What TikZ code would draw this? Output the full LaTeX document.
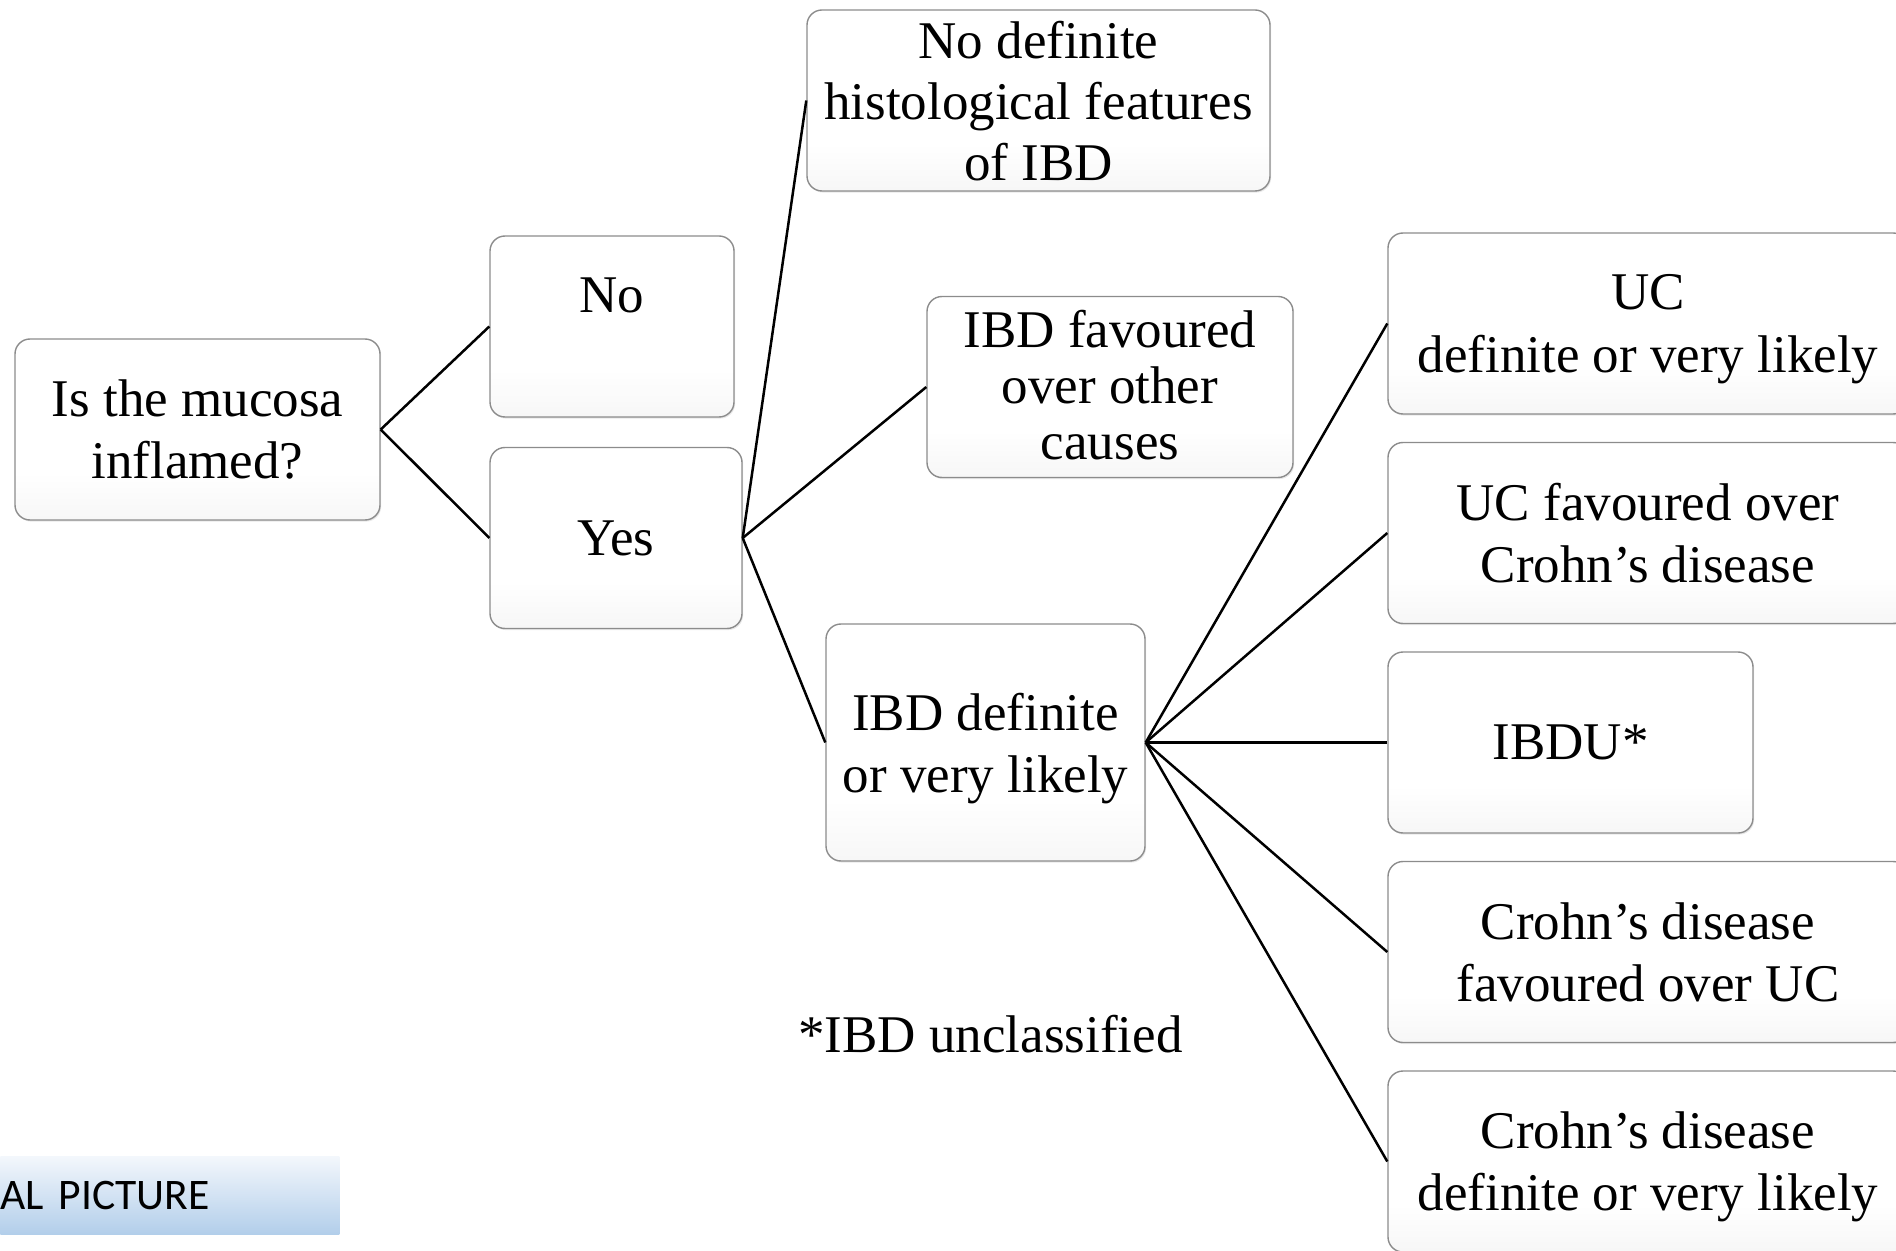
\documentclass[tikz,border=0pt]{standalone}
\usepackage{fontspec}
\setmainfont{Liberation Serif}
\newfontfamily\calibri{Carlito}
\usetikzlibrary{shadows}
\definecolor{bannertop}{RGB}{243,247,252}
\definecolor{bannerbot}{RGB}{178,206,234}
\pgfdeclareverticalshading{boxshade}{100bp}{color(0bp)=(black!16); color(14bp)=(black!6); color(38bp)=(white); color(100bp)=(white)}
\tikzstyle{box} = [rectangle, rounded corners=7.5pt, minimum height=90.5pt, align=center, draw=black!45, line width=0.7pt, shading=boxshade, drop shadow={opacity=0.18, shadow xshift=0.6pt, shadow yshift=-0.8pt}, font=\fontsize{26.5}{31}\selectfont, text depth=-4pt]
\tikzstyle{wide} = [minimum width=260pt]
\tikzstyle{edge} = [line width=1.25pt, black]
\tikzstyle{banner} = [rectangle, top color=bannertop, bottom color=bannerbot, minimum width=169.5pt, minimum height=39pt, text width=169.5pt, inner xsep=0pt, inner ysep=0pt, align=left, font=\calibri\fontsize{21.8}{26}\selectfont]

\begin{document}
\begin{tikzpicture}[x=0.5pt, y=-0.5pt, node distance=104.75pt]
\clip (0,0) rectangle (1896,1251);

\node (0) [box, minimum width=182.5pt] at (197.5,429.5) {Is the mucosa\\inflamed?};
\node (1) [box, minimum width=122pt, text depth=-6.5pt] at (612,326.5) {No\\\strut};
\node (2) [box, minimum width=126pt] at (616,538) {Yes};
\node (3) [box, minimum width=231.5pt, font=\fontsize{26.5}{30.5}\selectfont, text depth=-2.5pt] at (1038.5,100.5) {No definite\\histological features\\of IBD};
\node (4) [box, minimum width=183pt, font=\fontsize{26.5}{28}\selectfont, text depth=2.4pt] at (1110,387) {IBD favoured\\over other\\causes};
\node (5) [box, minimum width=159.5pt, minimum height=118.5pt, text depth=-2.5pt] at (985.5,742.5) {IBD definite\\or very likely};
\node (6) [box, wide, font=\fontsize{26.5}{31.5}\selectfont, text depth=-6.5pt] at (1648,323.5) {UC\\definite or very likely};
\node (7) [box, wide, below of=6] {UC favoured over\\Crohn’s disease};
\node (8) [box, minimum width=182.5pt, xshift=-38.75pt, below of=7, text depth=-6.5pt] {IBDU*};
\node (9) [box, wide, xshift=38.75pt, below of=8] {Crohn’s disease\\favoured over UC};
\node (10) [box, wide, below of=9, text depth=-6pt] {Crohn’s disease\\definite or very likely};

\node (11) [font=\fontsize{26.5}{31}\selectfont] at (990.5,1034) {*IBD unclassified};
\node (12) [banner, anchor=north west] at (0,1156) {AL PICTURE};

\draw [edge] (0.east) -- (1.west);
\draw [edge] (0.east) -- (2.west);
\draw [edge] (2.east) -- (3.west);
\draw [edge] (2.east) -- (4.west);
\draw [edge] (2.east) -- (5.west);
\draw [edge] (5.east) -- (6.west);
\draw [edge] (5.east) -- (7.west);
\draw [edge] (5.east) -- (8.west);
\draw [edge] (5.east) -- (9.west);
\draw [edge] (5.east) -- (10.west);

\end{tikzpicture}
\end{document}
